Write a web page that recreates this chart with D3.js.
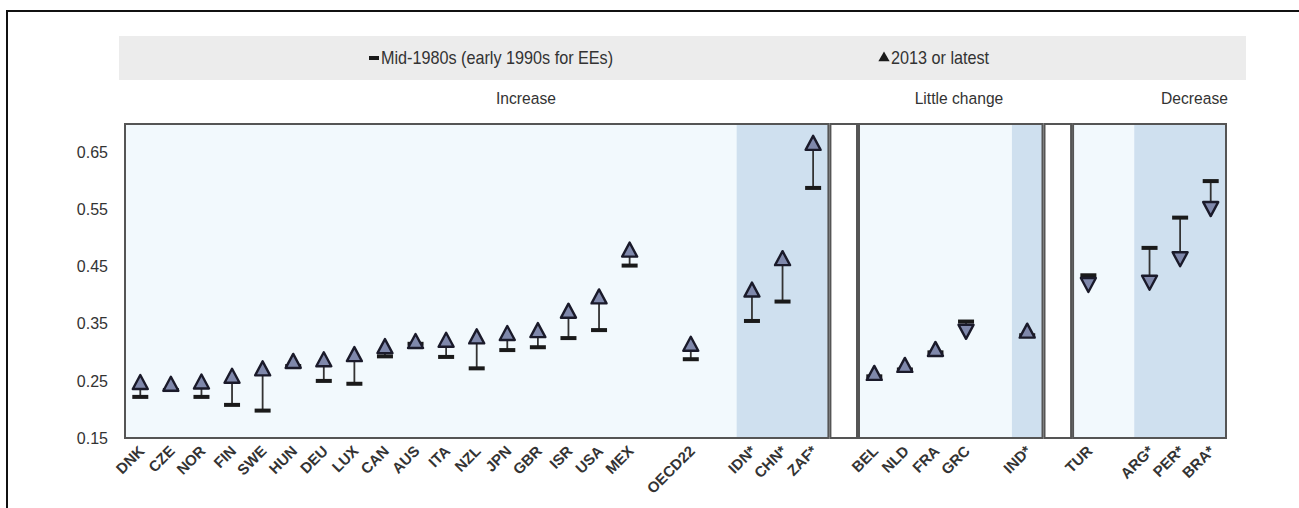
<!DOCTYPE html>
<html><head><meta charset="utf-8">
<script src="https://cdn.jsdelivr.net/npm/d3@7/dist/d3.min.js"></script>
<style>
html,body{margin:0;padding:0;background:#fff;}
text{font-family:"Liberation Sans",Arial,sans-serif;fill:#333;}
</style></head>
<body><svg id="c" width="1299" height="508"></svg>
<script>
// ---- data ----
const countries = ["DNK","CZE","NOR","FIN","SWE","HUN","DEU","LUX","CAN","AUS","ITA","NZL","JPN","GBR","ISR","USA","MEX","OECD22","IDN*","CHN*","ZAF*","BEL","NLD","FRA","GRC","IND*","TUR","ARG*","PER*","BRA*"];
const mid1980s = [0.222,0.234,0.222,0.208,0.198,0.276,0.250,0.245,0.293,0.315,0.292,0.272,0.304,0.309,0.325,0.339,0.452,0.288,0.355,0.389,0.588,0.258,0.270,0.300,0.354,0.330,0.435,0.483,0.536,0.600];
const latest   = [0.248,0.245,0.249,0.259,0.272,0.285,0.288,0.297,0.311,0.320,0.322,0.328,0.334,0.339,0.373,0.398,0.480,0.315,0.410,0.465,0.667,0.264,0.278,0.306,0.336,0.338,0.418,0.422,0.463,0.551];
// slot order along the x axis (blank slots keep spacing)
const slots = ["DNK","CZE","NOR","FIN","SWE","HUN","DEU","LUX","CAN","AUS","ITA","NZL","JPN","GBR","ISR","USA","MEX","_b1","OECD22","_b2","IDN*","CHN*","ZAF*",
  "_sep1","BEL","NLD","FRA","GRC","_b3","IND*","_sep2","TUR","_b4","ARG*","PER*","BRA*"];
const panels = [
  {first:"DNK", last:"ZAF*", label:"Increase", shadeFrom:"IDN*", shadeTo:"ZAF*"},
  {first:"BEL", last:"IND*", label:"Little change", shadeFrom:"IND*", shadeTo:"IND*"},
  {first:"TUR", last:"BRA*", label:"Decrease", shadeFrom:"ARG*", shadeTo:"BRA*"}
];
const separators = ["_sep1","_sep2"];
const yTicks = [0.15,0.25,0.35,0.45,0.55,0.65];
const legendLabels = ["Mid-1980s (early 1990s for EEs)","2013 or latest"];

// ---- drawing ----
const svg = d3.select("#c");
const x = d3.scaleBand().domain(slots).range([125,1226]);
const y = d3.scaleLinear().domain([0.15,0.70]).range([438,124]);
const bw = x.bandwidth();

// outer frame
svg.append("path").attr("d","M7,508 V11 H1299").attr("fill","none").attr("stroke","#111").attr("stroke-width",2);

// legend band
svg.append("rect").attr("x",119).attr("y",36).attr("width",1127).attr("height",44).attr("fill","#ececec");
const lg = svg.append("g");
lg.append("rect").attr("x",369).attr("y",56).attr("width",10).attr("height",4).attr("fill","#1a1a1a");
lg.append("text").attr("x",381).attr("y",64).attr("font-size",18).attr("transform","translate(381,0) scale(0.9,1) translate(-381,0)").text(legendLabels[0]);
lg.append("path").attr("d",d3.symbol(d3.symbolTriangle,55)()).attr("transform","translate(884,58)").attr("fill","#1a1a1a");
lg.append("text").attr("x",891).attr("y",64).attr("font-size",18).attr("transform","translate(891,0) scale(0.9,1) translate(-891,0)").text(legendLabels[1]);

// section labels
const labelPos = [{x:526,anchor:"middle"},{x:959,anchor:"middle"},{x:1228,anchor:"end"}];
panels.forEach((p,i)=>{
  const lx = labelPos[i].x;
  svg.append("text").attr("x",lx).attr("y",104).attr("text-anchor",labelPos[i].anchor)
    .attr("font-size",17).attr("transform",`translate(${lx},0) scale(0.92,1) translate(${-lx},0)`).text(p.label);
});

// panel backgrounds
panels.forEach(p=>{
  const x0 = x(p.first), x1 = x(p.last)+bw;
  svg.append("rect").attr("x",x0).attr("y",y(0.70)).attr("width",x1-x0).attr("height",y(0.15)-y(0.70)).attr("fill","#f2f9fd");
  const s0 = x(p.shadeFrom), s1 = x(p.shadeTo)+bw;
  svg.append("rect").attr("x",s0).attr("y",y(0.70)).attr("width",s1-s0).attr("height",y(0.15)-y(0.70)).attr("fill","#cfe0ef");
});
separators.forEach(s=>{
  svg.append("rect").attr("x",x(s)+2).attr("y",y(0.70)).attr("width",bw-4).attr("height",y(0.15)-y(0.70))
    .attr("fill","#fff").attr("stroke","#555").attr("stroke-width",2);
});
panels.forEach(p=>{
  const x0 = x(p.first), x1 = x(p.last)+bw;
  svg.append("rect").attr("x",x0).attr("y",y(0.70)).attr("width",x1-x0).attr("height",y(0.15)-y(0.70))
    .attr("fill","none").attr("stroke","#555").attr("stroke-width",2);
});

// y axis labels
const yAxis = d3.axisLeft(y).tickValues(yTicks).tickFormat(d3.format(".2f")).tickSize(0).tickPadding(17);
const ya = svg.append("g").attr("transform","translate(125,0)").call(yAxis);
ya.select(".domain").remove();
ya.selectAll("text").attr("font-size",16).attr("fill","#444").style("font-family",null);

// x axis labels
const xAxis = d3.axisBottom(x).tickValues(countries).tickSize(0).tickPadding(0);
const xa = svg.append("g").attr("transform","translate(0,438)").call(xAxis);
xa.select(".domain").remove();
xa.selectAll("text").attr("font-size",15).attr("font-weight","bold").attr("fill","#222").style("font-family",null)
  .attr("text-anchor","end").attr("dy",null).attr("y",0)
  .attr("transform","translate(5,14) rotate(-45)");

// markers
const data = countries.map((c,i)=>({c, a:mid1980s[i], b:latest[i]}));
const g = svg.append("g");
const triH = 14, triW = 15;
data.forEach(d=>{
  const cx = x(d.c)+bw/2, ya0 = y(d.a), yb = y(d.b);
  const up = d.b >= d.a;
  const tipStart = up ? yb + triH/2 : yb - triH/2;
  g.append("line").attr("x1",cx).attr("x2",cx).attr("y1",ya0).attr("y2",tipStart)
    .attr("stroke","#333").attr("stroke-width",1.8);
  g.append("rect").attr("x",cx-8).attr("y",ya0-2).attr("width",16).attr("height",4).attr("fill","#1a1a1a");
  const pts = up
    ? [[cx,yb-triH/2],[cx+triW/2,yb+triH/2],[cx-triW/2,yb+triH/2]]
    : [[cx,yb+triH/2],[cx+triW/2,yb-triH/2],[cx-triW/2,yb-triH/2]];
  g.append("path").attr("d","M"+pts.map(p=>p.join(",")).join("L")+"Z")
    .attr("fill","#7f88ab").attr("stroke","#1a1a2a").attr("stroke-width",2.4).attr("stroke-linejoin","round");
});
</script></body></html>
